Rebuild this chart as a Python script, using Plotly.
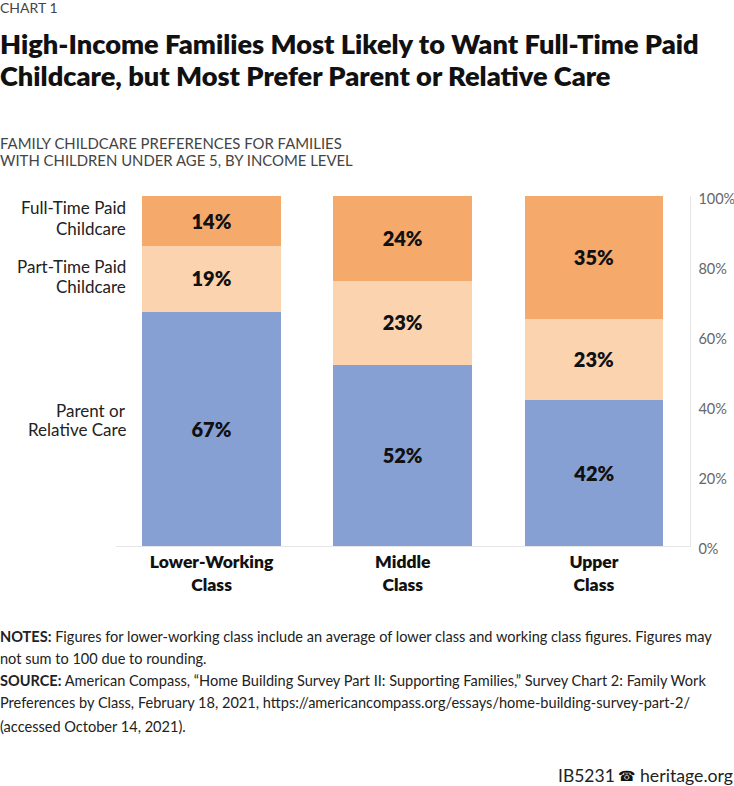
import plotly.graph_objects as go

W = 734
H = 786
FONT = 'Lato'

classes = ['Lower-Working<br>Class', 'Middle<br>Class', 'Upper<br>Class']
parent_care = [67, 52, 42]
# middle bar is drawn at 24 in the original so the stack reaches 100, its label says 23
part_time = [19, 24, 23]
full_time = [14, 24, 35]
parent_labels = ['67%', '52%', '42%']
part_labels = ['19%', '23%', '23%']
full_labels = ['14%', '24%', '35%']
y_ticks = [0, 20, 40, 60, 80, 100]
y_tick_labels = ['0%', '20%', '40%', '60%', '80%', '100%']

title_lines = ['High-Income Families Most Likely to Want Full-Time Paid',
               'Childcare, but Most Prefer Parent or Relative Care']
subtitle_lines = ['FAMILY CHILDCARE PREFERENCES FOR FAMILIES',
                  'WITH CHILDREN UNDER AGE 5, BY INCOME LEVEL']
note_lines = ['<b>NOTES:</b> Figures for lower-working class include an average of lower class and working class figures. Figures may',
              'not sum to 100 due to rounding.',
              '<b>SOURCE:</b> American Compass, “Home Building Survey Part II: Supporting Families,” Survey Chart 2: Family Work',
              'Preferences by Class, February 18, 2021, https://americancompass.org/essays/home-building-survey-part-2/',
              '(accessed October 14, 2021).']


def add_bar(fig, values, labels, color, name):
    fig.add_trace(go.Bar(x=classes, y=values, name=name,
                         marker=dict(color=color, line=dict(color=color, width=1)),
                         text=labels,
                         textposition='inside', insidetextanchor='middle',
                         textangle=0, constraintext='none',
                         textfont=dict(family=FONT, size=20, color='#111111', weight=800)))


# text placed by pixel position on the page
def add_text(fig, x, y, text, size, color='#222222', align='left', weight=None):
    fig.add_annotation(xref='paper', yref='paper', x=x / W, y=1 - y / H, text=text,
                       showarrow=False, xanchor=align, yanchor='middle', align=align,
                       borderpad=0, borderwidth=0,
                       font=dict(family=FONT, size=size, color=color, weight=weight))


fig = go.Figure()
add_bar(fig, parent_care, parent_labels, '#87A0D3', 'Parent or Relative Care')
add_bar(fig, part_time, part_labels, '#FBD3AE', 'Part-Time Paid Childcare')
add_bar(fig, full_time, full_labels, '#F5A96B', 'Full-Time Paid Childcare')

add_text(fig, 0, 8, 'CHART 1', 14, '#444444')
add_text(fig, 0, 44, title_lines[0], 27.2, '#111111', weight=800)
add_text(fig, 0, 76, title_lines[1], 27.2, '#111111', weight=800)
add_text(fig, 0, 143, subtitle_lines[0], 14.9, '#444444')
add_text(fig, 0, 160, subtitle_lines[1], 14.9, '#444444')

add_text(fig, 126, 208, 'Full-Time Paid', 17, align='right')
add_text(fig, 126, 228, 'Childcare', 17, align='right')
add_text(fig, 126, 266, 'Part-Time Paid', 17, align='right')
add_text(fig, 126, 286, 'Childcare', 17, align='right')
add_text(fig, 126, 410, 'Parent or', 17, align='right')
add_text(fig, 126, 430, 'Relative Care', 17, align='right')

for y, line in zip([636, 658, 680, 702, 726], note_lines):
    add_text(fig, 0, y, line, 14.55)

add_text(fig, 558, 775, 'IB5231', 17.5)
add_text(fig, 618, 775, '☎', 14, '#111111')
add_text(fig, 640, 775, 'heritage.org', 17.7)

fig.update_layout(
    width=W, height=H, autosize=False,
    margin=dict(l=0, r=0, t=0, b=0, autoexpand=False),
    paper_bgcolor='white', plot_bgcolor='white',
    barmode='stack', bargap=0.28,
    showlegend=False,
    xaxis=dict(domain=[116 / W, 689.5 / W], range=[-0.5, 2.5], showgrid=False,
               showline=True, linecolor='#E6E6E6', linewidth=1, ticks='',
               tickfont=dict(family=FONT, size=17.5, color='#111111', weight=800)),
    yaxis=dict(domain=[1 - 546 / H, 1 - 196 / H], range=[0, 100], side='right',
               anchor='x', tickvals=y_ticks, ticktext=y_tick_labels, showgrid=False,
               showline=True, linecolor='#E6E6E6', linewidth=1, zeroline=False,
               ticks='', ticklabelstandoff=5, ticklabelshift=3,
               tickfont=dict(family=FONT, size=14.5, color='#666666')),
)

fig.write_html('out.html', config=dict(displayModeBar=False),
               post_script="document.body.style.margin='0';")
